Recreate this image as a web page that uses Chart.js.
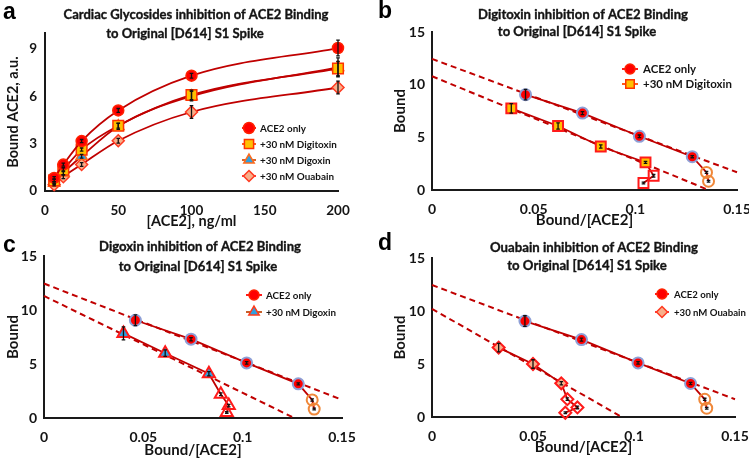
<!DOCTYPE html>
<html><head><meta charset="utf-8">
<script src="https://cdn.jsdelivr.net/npm/chart.js@4/dist/chart.umd.min.js"></script>
<style>
html,body{margin:0;padding:0;background:#fff;width:749px;height:459px;overflow:hidden;}
canvas{position:absolute;}
</style></head><body>
<canvas id="ca" style="left:0px;top:0px" width="375" height="230"></canvas>
<canvas id="cb" style="left:375px;top:0px" width="374" height="230"></canvas>
<canvas id="cc" style="left:0px;top:230px" width="375" height="229"></canvas>
<canvas id="cd" style="left:375px;top:230px" width="374" height="229"></canvas>
<script>
// ---------------- data ----------------
const concentrations = [6.25, 12.5, 25, 50, 100, 200];            // [ACE2], ng/ml
const boundAce2      = [0.83, 1.67, 3.16, 5.10, 7.30, 9.05];
const boundDigitoxin = [0.67, 1.35, 2.62, 4.13, 6.08, 7.75];
const boundDigoxin   = [0.50, 1.15, 2.20, 4.10, 6.00, 7.83];
const boundOuabain   = [0.40, 0.90, 1.68, 3.18, 5.00, 6.55];

const errAce2      = [0.08, 0.10, 0.10, 0.12, 0.15, 0.50];
const errDigitoxin = [0.08, 0.12, 0.10, 0.15, 0.30, 0.45];
const errDigoxin   = [0.08, 0.12, 0.12, 0.20, 0.30, 0.60];
const errOuabain   = [0.08, 0.12, 0.12, 0.15, 0.40, 0.40];

// Bound/[ACE2] (Scatchard abscissa) for the same points
const ratioAce2      = [0.136, 0.135, 0.128, 0.102, 0.074, 0.046];
const ratioDigitoxin = [0.104, 0.109, 0.105, 0.083, 0.062, 0.039];
const ratioDigoxin   = [0.092, 0.093, 0.089, 0.083, 0.061, 0.040];
const ratioOuabain   = [0.066, 0.072, 0.067, 0.064, 0.050, 0.033];

// dashed linear fits (end points)
const fitAce2X = [0, 0.15],       fitAce2Y = [12.45, 1.68];
const fitDigitoxinX = [0, 0.136], fitDigitoxinY = [10.8, 0];
const fitDigoxinX = [0, 0.126],   fitDigoxinY = [11.3, 0];
const fitOuabainX = [0, 0.094],   fitOuabainY = [10.2, 0];

const seriesLabels = ['ACE2 only', '+30 nM Digitoxin', '+30 nM Digoxin', '+30 nM Ouabain'];

// ---------------- helpers ----------------
const FONT = 'Lato, "Open Sans", sans-serif';
Chart.defaults.font.family = FONT;
Chart.defaults.color = '#1e1e1e';
const DARKRED = '#c00000';
const TXT = '#141414';

const pts = (xs, ys) => xs.map((x, i) => ({x: x, y: ys[i]}));

function fitSize(ctx, text, target) {
  ctx.font = 'bold 20px ' + FONT;
  return 20 * target / ctx.measureText(text).width;
}

function drawMarker(ctx, style, x, y, r, fill, stroke, bw) {
  ctx.save();
  ctx.beginPath();
  if (style === 'circle') ctx.arc(x, y, r, 0, Math.PI * 2);
  else if (style === 'rect') { const s = r * Math.SQRT1_2; ctx.rect(x - s, y - s, 2 * s, 2 * s); }
  else if (style === 'triangle') {
    for (let k = 0; k < 3; k++) {
      const a = k * 2 * Math.PI / 3;
      const px = x + Math.sin(a) * r, py = y - Math.cos(a) * r;
      k ? ctx.lineTo(px, py) : ctx.moveTo(px, py);
    }
    ctx.closePath();
  } else if (style === 'rectRot') {
    ctx.moveTo(x, y - r); ctx.lineTo(x + r, y); ctx.lineTo(x, y + r); ctx.lineTo(x - r, y); ctx.closePath();
  }
  ctx.fillStyle = fill; ctx.fill();
  ctx.lineWidth = bw; ctx.strokeStyle = stroke; ctx.stroke();
  ctx.restore();
}

function makeDecor(cfg) {
  return {
    id: 'decor',
    afterDatasetsDraw(chart) {
      const ctx = chart.ctx, ys = chart.scales.y;
      chart.data.datasets.forEach((ds, i) => {
        if (!ds.errorBars) return;
        const meta = chart.getDatasetMeta(i);
        meta.data.forEach((el, j) => {
          const v = ds.data[j].y, e = ds.errorBars[j];
          const y1 = ys.getPixelForValue(v + e), y2 = ys.getPixelForValue(v - e);
          ctx.save();
          ctx.strokeStyle = '#111'; ctx.lineWidth = 1.3;
          ctx.beginPath();
          ctx.moveTo(el.x, y1); ctx.lineTo(el.x, y2);
          ctx.moveTo(el.x - 1.8, y1); ctx.lineTo(el.x + 1.8, y1);
          ctx.moveTo(el.x - 1.8, y2); ctx.lineTo(el.x + 1.8, y2);
          ctx.stroke();
          ctx.restore();
        });
      });
    },
    afterDraw(chart) {
      const ctx = chart.ctx;
      ctx.save();
      // panel letter
      ctx.fillStyle = '#000';
      ctx.font = 'bold 23px "Liberation Sans", Arial, sans-serif';
      ctx.textAlign = 'left'; ctx.textBaseline = 'alphabetic';
      ctx.fillText(cfg.letter.text, cfg.letter.x, cfg.letter.y);
      // titles: size chosen so the first line spans the width seen in the figure
      const ts = fitSize(ctx, cfg.title[0].text, cfg.titleWidth);
      ctx.font = 'bold ' + ts.toFixed(2) + 'px ' + FONT;
      ctx.textAlign = 'center'; ctx.textBaseline = 'middle';
      ctx.fillStyle = TXT; ctx.strokeStyle = TXT; ctx.lineWidth = 0.35;
      cfg.title.forEach(t => { ctx.fillText(t.text, t.x, t.y); ctx.strokeText(t.text, t.x, t.y); });
      // legend
      const L = cfg.legend;
      const ls = fitSize(ctx, L.items[L.items.length - 1].text, L.width);
      ctx.font = 'bold ' + ls.toFixed(2) + 'px ' + FONT;
      ctx.textAlign = 'left';
      L.items.forEach((it, k) => {
        const y = L.y + k * L.dy;
        ctx.strokeStyle = it.line; ctx.lineWidth = 2;
        ctx.beginPath(); ctx.moveTo(L.x, y); ctx.lineTo(L.x + L.len, y); ctx.stroke();
        drawMarker(ctx, it.style, L.x + L.len / 2, y, it.r, it.fill, it.border, 1.5);
        ctx.fillStyle = TXT;
        ctx.fillText(it.text, L.x + L.len + L.gap, y + 0.5);
      });
      ctx.restore();
    }
  };
}

function axisCommon(title, tickSize, titleSize, titlePad, tickPad) {
  return {
    type: 'linear',
    grid: {display: false, drawTicks: false},
    border: {display: true, color: '#1a1a1a', width: 2},
    ticks: {font: {size: tickSize, weight: 'bold'}, color: TXT, padding: tickPad, includeBounds: false},
    title: {display: true, text: title, font: {size: titleSize, weight: 'bold'}, color: TXT, padding: titlePad}
  };
}

function build(id, cfg) {
  const x = axisCommon(cfg.xTitle, cfg.tickSize, cfg.axisTitleSize, {top: 0, bottom: cfg.xTitlePad}, cfg.xTickPad);
  x.min = cfg.xMin; x.max = cfg.xMax; x.ticks.stepSize = cfg.xStep;
  if (cfg.xFmt) x.ticks.callback = cfg.xFmt;
  x.afterFit = s => { s.height = cfg.xHeight; s.paddingLeft = 0; s.paddingRight = 0; };
  const y = axisCommon(cfg.yTitle, cfg.tickSize, cfg.axisTitleSize, {top: cfg.yTitlePad, bottom: 0}, cfg.yTickPad);
  y.min = 0; y.max = cfg.yMax; y.ticks.stepSize = cfg.yStep;
  y.afterFit = s => { s.width = cfg.yWidth; s.paddingTop = 0; s.paddingBottom = 0; };
  return new Chart(document.getElementById(id), {
    type: 'scatter',
    data: {datasets: cfg.datasets},
    options: {
      responsive: false, animation: false, devicePixelRatio: 1,
      layout: {padding: {left: 0, top: cfg.top, right: cfg.right, bottom: 0}},
      plugins: {legend: {display: false}, tooltip: {enabled: false}, title: {display: false}},
      scales: {x: x, y: y}
    },
    plugins: [makeDecor(cfg)]
  });
}

// ---------- series styles ----------
const ST = {
  ace2:      {style: 'circle',   r: 5.5, fill: '#ff0000', border: '#ff2200', line: '#ff1a1a'},
  digitoxin: {style: 'rect',     r: 7.5, fill: '#ffc000', border: '#ff3300', line: '#ff5a1a'},
  digoxin:   {style: 'triangle', r: 6.5, fill: '#2fa0e0', border: '#ff6a1a', line: '#d9642a'},
  ouabain:   {style: 'rectRot',  r: 6,   fill: '#f8ae8a', border: '#ff3a20', line: '#ff3a3a'}
};

function curveSet(label, ys, errs, st) {
  return {
    label: label, data: pts(concentrations, ys), errorBars: errs, clip: false,
    showLine: true, cubicInterpolationMode: 'monotone', borderColor: DARKRED, borderWidth: 1.8,
    pointStyle: st.style, pointRadius: st.r, pointBackgroundColor: st.fill,
    pointBorderColor: st.border, pointBorderWidth: 1.5
  };
}

// ---------- panel a ----------
build('ca', {
  letter: {text: 'a', x: 3, y: 19},
  titleWidth: 265,
  title: [{text: 'Cardiac Glycosides inhibition of ACE2 Binding', x: 196, y: 15},
          {text: 'to Original [D614] S1 Spike', x: 185, y: 34}],
  legend: {x: 242, y: 128, dy: 16, len: 14, gap: 4, width: 74,
    items: [
      Object.assign({text: seriesLabels[0]}, ST.ace2),
      Object.assign({text: seriesLabels[1]}, ST.digitoxin, {r: 6.5}),
      Object.assign({text: seriesLabels[2]}, ST.digoxin, {r: 6}),
      Object.assign({text: seriesLabels[3]}, ST.ouabain, {r: 5.5})]},
  xTitle: '[ACE2], ng/ml', yTitle: 'Bound ACE2, a.u.',
  tickSize: 13.5, axisTitleSize: 14.5, xTitlePad: 0, yTitlePad: 5, xTickPad: 12, yTickPad: 8,
  xMin: 0, xMax: 200, xStep: 50, yMax: 10, yStep: 3,
  xHeight: 39, yWidth: 45, top: 33, right: 37,
  datasets: [
    curveSet(seriesLabels[0], boundAce2, errAce2, ST.ace2),
    curveSet(seriesLabels[1], boundDigitoxin, errDigitoxin, ST.digitoxin),
    curveSet(seriesLabels[2], boundDigoxin, errDigoxin, ST.digoxin),
    curveSet(seriesLabels[3], boundOuabain, errOuabain, ST.ouabain)
  ]
});

// ---------- Scatchard panels ----------
const fmt2 = v => String(Number(Number(v).toFixed(2)));

function fitSet(xs, ys) {
  return {data: pts(xs, ys), showLine: true, pointRadius: 0, borderColor: DARKRED,
          borderWidth: 2, borderDash: [6, 4], clip: false};
}
function scatSet(label, xs, ys, errs, st, openCount, openBorder, filledBorder) {
  return {
    label: label, data: pts(xs, ys), errorBars: errs, clip: false,
    showLine: true, borderColor: DARKRED, borderWidth: 1.8, tension: 0,
    pointStyle: st.style, pointRadius: st.r,
    pointBackgroundColor: c => c.dataIndex < openCount ? 'rgba(255,255,255,0)' : st.fill,
    pointBorderColor: c => c.dataIndex < openCount ? openBorder : filledBorder,
    pointBorderWidth: 2
  };
}
const ace2Scat = {style: 'circle', r: 5.5, fill: '#ff0000'};

function scatchard(id, o) {
  build(id, {
    letter: o.letter, titleWidth: o.titleWidth,
    title: o.title,
    legend: o.legend,
    xTitle: 'Bound/[ACE2]', yTitle: 'Bound',
    tickSize: 14, axisTitleSize: 15, xTitlePad: o.xTitlePad, yTitlePad: o.yTitlePad, xTickPad: 11, yTickPad: 7,
    xMin: 0, xMax: 0.15, xStep: 0.05, xFmt: fmt2, yMax: 15, yStep: 5,
    xHeight: o.xHeight, yWidth: o.yWidth, top: o.top, right: o.right,
    datasets: [
      scatSet(seriesLabels[0], ratioAce2, boundAce2, errAce2, ace2Scat, 2, '#f0883a', '#8e9fd6'),
      scatSet(o.label, o.rx, o.by, o.err, o.st, o.open, '#ff1a1a', '#ff1a1a'),
      fitSet(fitAce2X, fitAce2Y),
      fitSet(o.fx, o.fy)
    ]
  });
}

const legAce2 = {text: seriesLabels[0], style: 'circle', r: 5, fill: '#ff0000', border: '#ff2200', line: '#ff1a1a'};

scatchard('cb', {
  letter: {text: 'b', x: 3, y: 18},
  titleWidth: 210,
  title: [{text: 'Digitoxin inhibition of ACE2 Binding', x: 208, y: 15},
          {text: 'to Original [D614] S1 Spike', x: 202, y: 32}],
  legend: {x: 247, y: 69, dy: 15, len: 16, gap: 5, width: 89,
    items: [legAce2, {text: seriesLabels[1], style: 'rect', r: 6, fill: '#ffc000', border: '#ff3300', line: '#ff5a1a'}]},
  xTitlePad: 1, yTitlePad: 16, xHeight: 40, yWidth: 57, top: 32, right: 12,
  label: seriesLabels[1], rx: ratioDigitoxin, by: boundDigitoxin, err: errDigitoxin,
  st: {style: 'rect', r: 7, fill: '#ffc000'}, open: 2, fx: fitDigitoxinX, fy: fitDigitoxinY
});

scatchard('cc', {
  letter: {text: 'c', x: 3, y: 22},
  titleWidth: 202,
  title: [{text: 'Digoxin inhibition of ACE2 Binding', x: 200, y: 17},
          {text: 'to Original [D614] S1 Spike', x: 198, y: 37}],
  legend: {x: 246, y: 65, dy: 17, len: 16, gap: 4, width: 70,
    items: [legAce2, {text: seriesLabels[2], style: 'triangle', r: 6, fill: '#2fa0e0', border: '#ff3a1a', line: '#c8602a'}]},
  xTitlePad: 0, yTitlePad: 4, xHeight: 41, yWidth: 44, top: 26, right: 33,
  label: seriesLabels[2], rx: ratioDigoxin, by: boundDigoxin, err: errDigoxin,
  st: {style: 'triangle', r: 7, fill: '#2fa0e0'}, open: 3, fx: fitDigoxinX, fy: fitDigoxinY
});

scatchard('cd', {
  letter: {text: 'd', x: 3, y: 20},
  titleWidth: 208,
  title: [{text: 'Ouabain inhibition of ACE2 Binding', x: 219, y: 18},
          {text: 'to Original [D614] S1 Spike', x: 212, y: 36}],
  legend: {x: 280, y: 64, dy: 18, len: 14, gap: 5, width: 72,
    items: [legAce2, {text: seriesLabels[3], style: 'rectRot', r: 5.5, fill: '#f8ae8a', border: '#ff3a20', line: '#ff3a3a'}]},
  xTitlePad: 3, yTitlePad: 16, xHeight: 42, yWidth: 57, top: 28, right: 14,
  label: seriesLabels[3], rx: ratioOuabain, by: boundOuabain, err: errOuabain,
  st: {style: 'rectRot', r: 6, fill: '#f8ae8a'}, open: 3, fx: fitOuabainX, fy: fitOuabainY
});
</script>
</body></html>
